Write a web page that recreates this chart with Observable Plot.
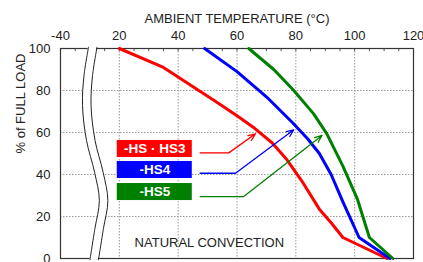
<!DOCTYPE html>
<html><head><meta charset="utf-8">
<script src="https://cdn.jsdelivr.net/npm/d3@7"></script>
<script src="https://cdn.jsdelivr.net/npm/@observablehq/plot@0.6"></script>
<style>body{margin:0;background:#fff}</style>
</head><body><div id="chart"></div>
<script>
// Axis position u: for the right (unbroken) part u = temperature in °C; the broken left part holds only -40.
const xTicks = [0, 20, 40, 60, 80, 100, 120];
const xTickLabels = ["-40", "20", "40", "60", "80", "100", "120"];
const yTicks = [0, 20, 40, 60, 80, 100];
const minorTicks = [5,15,20,25,30,35,40,45,50,55,60,65,70,75,80,85,90,95,100,105,110,115];

const seriesNames = ["-HS · HS3", "-HS4", "-HS5"];
const seriesColors = ["#ff0000", "#0000ff", "#008000"];

const hs3Temp = [20, 35, 47, 52, 60, 66, 72, 77, 82, 88, 92, 96, 111];
const hs3Load = [100, 91, 80, 75.5, 68, 62, 55, 47, 37, 23.5, 17, 10, 0];
const hs4Temp = [49, 60, 70, 79, 84, 88, 92, 96, 101.5, 112];
const hs4Load = [100, 89, 77, 64.5, 57, 50, 40, 27, 10, 0];
const hs5Temp = [64, 72.5, 79, 86, 90.5, 96, 101, 105, 113];
const hs5Load = [100, 90, 80.5, 69, 59.5, 44, 28, 10, 0];

// legend boxes & callouts (annotation positions in axis units)
const boxX1 = 19.3, boxX2 = 44.8;
const boxY1 = [48.1, 38.1, 27.6];
const boxY2 = [56.2, 46.2, 35.7];
const calloutStart = 47.3;
const calloutY = [50.3, 40.6, 29.5];
const calloutElbow = [57.2, 59.5, 62.3];
const calloutTipX = [66.3, 79.3, 88.9];
const calloutTipY = [59.4, 61.3, 58.6];

// axis-break wave (u, load)
const breakU = [9.52, 7.99, 7.48, 8.84, 11.6, 13.2, 11.7, 10.0];
const breakL = [100.6, 87.1, 72.9, 56.2, 41.0, 27.6, 14.3, -0.6];
const breakGap = 2.9;

const series = [
  ...hs3Temp.map((t, i) => ({name: seriesNames[0], x: t, y: hs3Load[i]})),
  ...hs4Temp.map((t, i) => ({name: seriesNames[1], x: t, y: hs4Load[i]})),
  ...hs5Temp.map((t, i) => ({name: seriesNames[2], x: t, y: hs5Load[i]}))
];
const legend = seriesNames.map((n, i) => ({name: n, color: seriesColors[i], y1: boxY1[i], y2: boxY2[i],
  ym: (boxY1[i] + boxY2[i]) / 2, cy: calloutY[i], ex: calloutElbow[i], tx: calloutTipX[i], ty: calloutTipY[i]}));
const wave = breakU.map((u, i) => ({a: u, b: u + breakGap, y: breakL[i]}));

const font = "'Liberation Sans', Arial, sans-serif";
const chart = Plot.plot({
  width: 423, height: 262,
  marginTop: 48, marginBottom: 4, marginLeft: 60, marginRight: 10,
  style: {fontFamily: font, fontSize: "13px", color: "#222", background: "#fff"},
  x: {domain: [0, 120]},
  y: {domain: [0, 100]},
  marks: [
    Plot.gridX([20, 40, 60, 80, 100], {stroke: "#999", strokeOpacity: 1, strokeDasharray: "1.5,1.5"}),
    Plot.gridY([20, 40, 60, 80], {stroke: "#999", strokeOpacity: 1, strokeDasharray: "1.5,1.5"}),
    Plot.ruleX(minorTicks, {y1: 100, y2: 98.5, stroke: "#555"}),
    Plot.frame({stroke: "#333", strokeWidth: 1.2}),
    Plot.areaX(wave, {y: "y", x1: "a", x2: "b", fill: "white", curve: "catmull-rom"}),
    Plot.line(wave, {x: "a", y: "y", stroke: "#222", strokeWidth: 1, curve: "catmull-rom"}),
    Plot.line(wave, {x: "b", y: "y", stroke: "#222", strokeWidth: 1, curve: "catmull-rom"}),
    Plot.axisX({anchor: "top", ticks: xTicks, tickFormat: (d) => xTickLabels[xTicks.indexOf(d)], tickSize: 0, tickPadding: 9, fontSize: 13, label: null}),
    Plot.axisY({ticks: yTicks, tickSize: 0, tickPadding: 10, fontSize: 13, label: null}),
    Plot.text(["AMBIENT TEMPERATURE (°C)"], {frameAnchor: "top", dy: -35, fontSize: 13, fill: "#222"}),
    Plot.text(["% of FULL LOAD"], {frameAnchor: "left", dx: -40, rotate: -90, fontSize: 13, fill: "#222"}),
    Plot.line(series, {x: "x", y: "y", z: "name", stroke: "name", strokeWidth: 3}),
    Plot.rect(legend, {x1: boxX1, x2: boxX2, y1: "y1", y2: "y2", fill: "color"}),
    Plot.text(legend, {x: (boxX1 + boxX2) / 2, y: "ym", text: "name", fill: "white", fontWeight: "bold", fontSize: 13.5}),
    Plot.link(legend, {x1: calloutStart, y1: "cy", x2: "ex", y2: "cy", stroke: "color", strokeWidth: 1.3}),
    Plot.arrow(legend, {x1: "ex", y1: "cy", x2: "tx", y2: "ty", stroke: "color", strokeWidth: 1.3, headLength: 9, headAngle: 45}),
    Plot.text(["NATURAL CONVECTION"], {x: 50.6, y: 7.6, fontSize: 13, fill: "#222"})
  ],
  color: {domain: seriesNames, range: seriesColors}
});
document.getElementById("chart").appendChild(chart);
</script></body></html>
